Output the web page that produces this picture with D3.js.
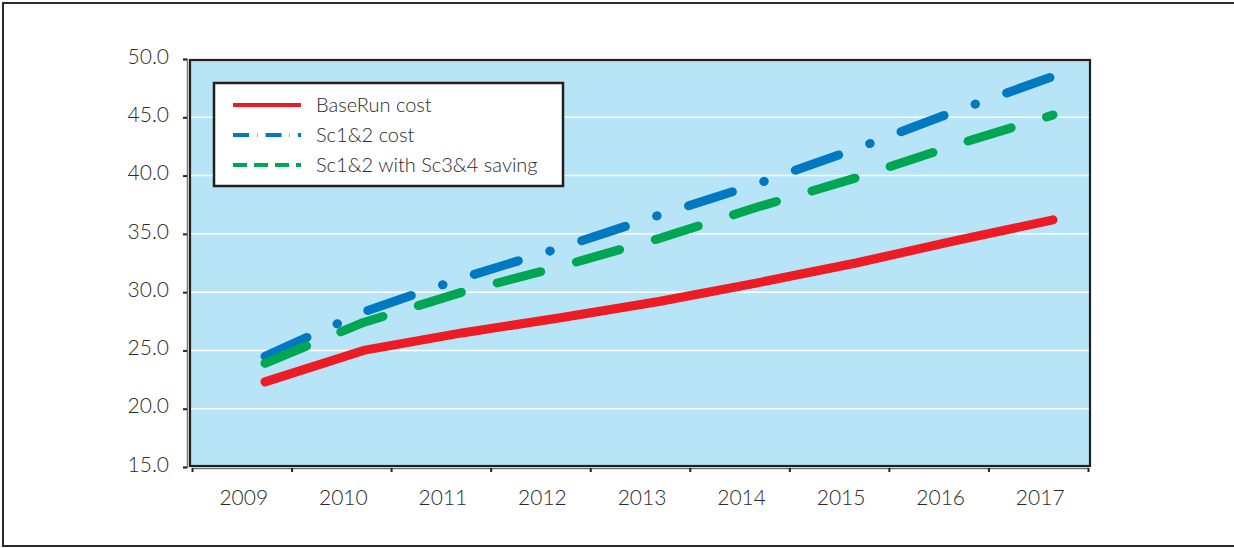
<!DOCTYPE html>
<html>
<head>
<meta charset="utf-8">
<script src="https://cdn.jsdelivr.net/npm/d3@7"></script>
<style>
  html, body { margin: 0; padding: 0; background: #fff; }
  svg { display: block; }
  text { font-family: Lato, "Open Sans", sans-serif; font-weight: 300; fill: #2a2a2a; }
</style>
</head>
<body>
<svg id="chart" width="1234" height="548"></svg>
<script>
// ---- data ----
const years = ["2009","2010","2011","2012","2013","2014","2015","2016","2017"];
const baseRunCost = [22.3, 25.0, 26.5, 27.8, 29.2, 30.8, 32.5, 34.4, 36.2];
const sc12Cost = [24.5, 28.3, 31.2, 33.8, 36.6, 39.3, 42.3, 45.5, 48.5];
const sc12WithSaving = [23.9, 27.4, 30.0, 32.2, 34.6, 37.3, 39.8, 42.6, 45.2];
const yTicks = [15, 20, 25, 30, 35, 40, 45, 50];
const seriesNames = ["BaseRun cost", "Sc1&2 cost", "Sc1&2 with Sc3&4 saving"];

const series = [
  { name: seriesNames[0], values: baseRunCost, color: "#ed1c24", dash: null, legendDash: null },
  { name: seriesNames[1], values: sc12Cost, color: "#0079c2", dash: "46,33,0.5,33", legendDash: "16,8,0.5,8" },
  { name: seriesNames[2], values: sc12WithSaving, color: "#00a651", dash: "45,37", legendDash: "14,7" }
];

const svg = d3.select("#chart");

// outer frame
svg.append("rect").attr("x", 3).attr("y", 3).attr("width", 1250).attr("height", 543)
  .attr("fill", "none").attr("stroke", "#2b2b2b").attr("stroke-width", 2);

const plot = { left: 190, right: 1090, top: 60, bottom: 466 };

const y = d3.scaleLinear().domain([15, 50]).range([467, 59]);
const xBand = d3.scaleBand().domain(years).range([192, 1088]).paddingInner(0).paddingOuter(0);
const xPt = d3.scalePoint().domain(years).range([265, 1053]);
const xEdge = d3.scaleLinear().domain([0, years.length]).range([192, 1088]);

// plot background
svg.append("rect")
  .attr("x", plot.left).attr("y", plot.top)
  .attr("width", plot.right - plot.left).attr("height", plot.bottom - plot.top)
  .attr("fill", "#b8e4f8");

// gridlines
svg.append("g").selectAll("line")
  .data(yTicks.filter(t => t > 15 && t < 50))
  .join("line")
  .attr("x1", plot.left).attr("x2", plot.right)
  .attr("y1", d => y(d)).attr("y2", d => y(d))
  .attr("stroke", "#ffffff").attr("stroke-width", 1.5);

// plot border
svg.append("rect")
  .attr("x", plot.left).attr("y", plot.top)
  .attr("width", plot.right - plot.left).attr("height", plot.bottom - plot.top)
  .attr("fill", "none").attr("stroke", "#231f20").attr("stroke-width", 2.2);

// y axis
const yAxis = svg.append("g").attr("transform", "translate(187,0)")
  .call(d3.axisLeft(y).tickValues(yTicks).tickFormat(d3.format(".1f")).tickSize(4).tickPadding(14));
yAxis.select(".domain").attr("stroke", "#777").attr("stroke-width", 1.5);
yAxis.selectAll(".tick line").attr("stroke", "#222").attr("stroke-width", 2);
yAxis.selectAll(".tick text").attr("font-size", 21).attr("dy", "0.2em")
  .style("font-family", "Lato, sans-serif").style("font-weight", 300).attr("fill", "#2a2a2a");

// x axis: tick marks at band edges
const xTickAxis = svg.append("g").attr("transform", "translate(0,468)")
  .call(d3.axisBottom(xEdge).tickValues(d3.range(0, years.length + 1)).tickFormat("").tickSize(4).tickSizeOuter(0));
xTickAxis.select(".domain").attr("stroke", "#777").attr("stroke-width", 1.5);
xTickAxis.selectAll(".tick line").attr("stroke", "#222").attr("stroke-width", 2);

// x axis labels centered in bands
const xLabAxis = svg.append("g").attr("transform", "translate(2,468)")
  .call(d3.axisBottom(xBand).tickSize(0).tickPadding(22));
xLabAxis.select(".domain").remove();
xLabAxis.selectAll(".tick text").attr("font-size", 21)
  .style("font-family", "Lato, sans-serif").style("font-weight", 300).attr("fill", "#2a2a2a");

// lines
const line = d3.line().x((d, i) => xPt(years[i])).y(d => y(d));
svg.append("g").selectAll("path")
  .data(series)
  .join("path")
  .attr("d", d => line(d.values))
  .attr("fill", "none")
  .attr("stroke", d => d.color)
  .attr("stroke-width", 9)
  .attr("stroke-linecap", "round")
  .attr("stroke-linejoin", "round")
  .attr("stroke-dasharray", d => d.dash);

// legend
const lg = svg.append("g");
lg.append("rect").attr("x", 214).attr("y", 83).attr("width", 349).attr("height", 103)
  .attr("fill", "#ffffff").attr("stroke", "#231f20").attr("stroke-width", 2.5);
const rows = lg.selectAll("g.row").data(series).join("g").attr("class", "row")
  .attr("transform", (d, i) => `translate(0,${105 + i * 30})`);
rows.append("line").attr("x1", 233).attr("x2", 301).attr("y1", 0).attr("y2", 0)
  .attr("stroke", d => d.color).attr("stroke-width", 4)
  .attr("stroke-dasharray", d => d.legendDash);
rows.append("text").attr("x", 316).attr("y", 7).attr("font-size", 20).text(d => d.name);
</script>
</body>
</html>
